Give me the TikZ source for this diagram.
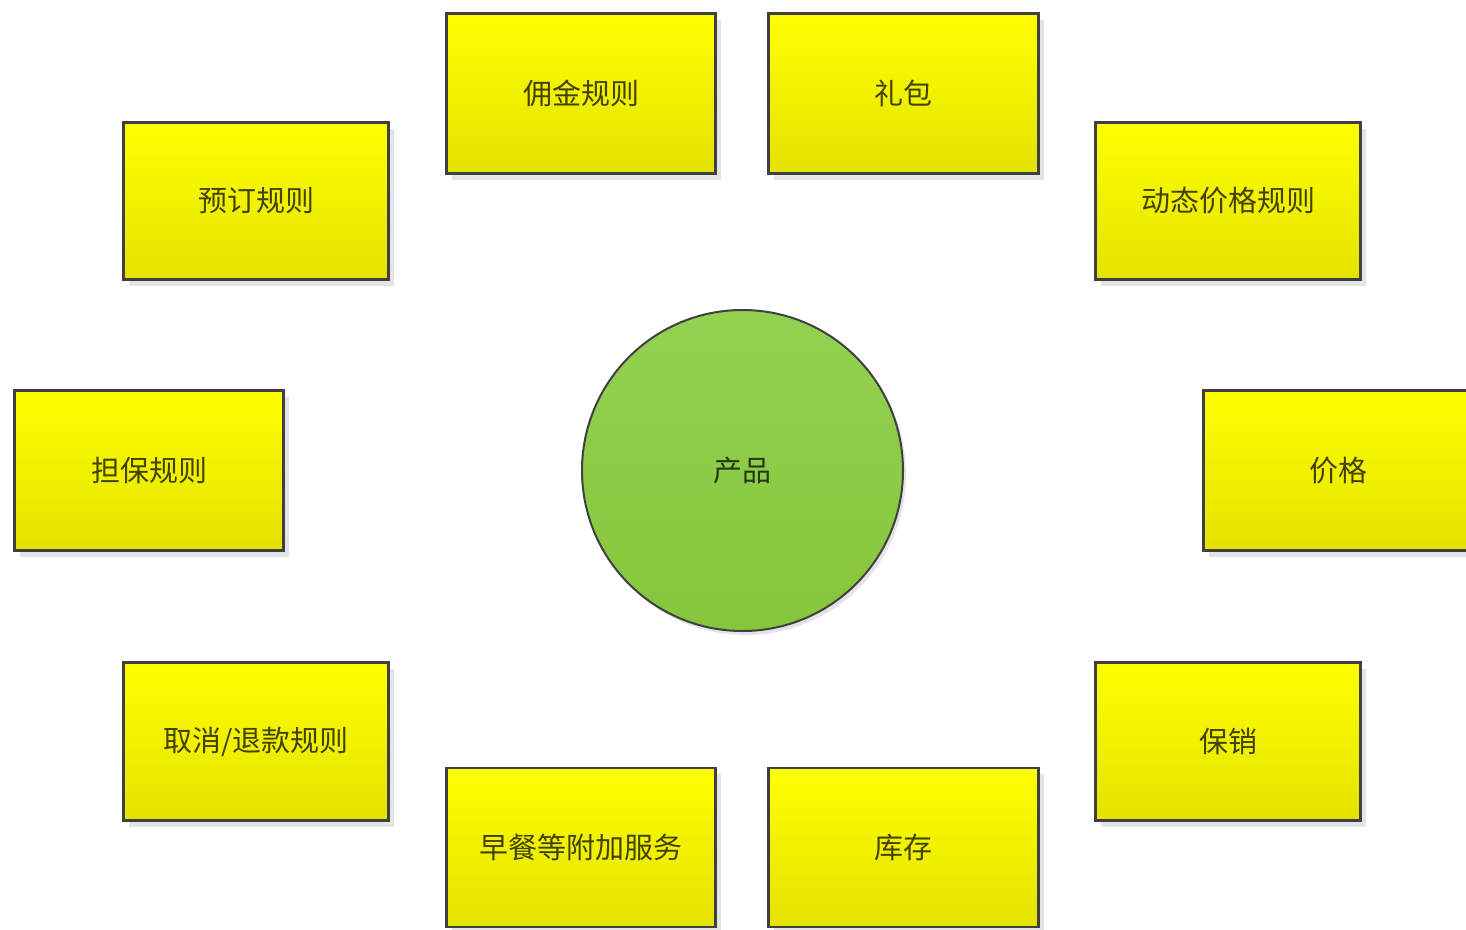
\documentclass[tikz,border=0pt]{standalone}
\usepackage{fontspec}
\newfontfamily\cjk{Noto Sans CJK SC}
\usetikzlibrary{shadows}
\definecolor{ytop}{HTML}{FFFF00}
\definecolor{ybot}{HTML}{E3E300}
\definecolor{gtop}{HTML}{93D152}
\definecolor{gbot}{HTML}{86C63A}
\definecolor{bord}{HTML}{404040}
\definecolor{shad}{HTML}{E4E4E4}
\tikzset{
  box/.style={draw=bord, line width=2.6pt, top color=ytop, bottom color=ybot,
    minimum width=#1, minimum height=160pt, inner sep=0pt,
    font=\cjk\fontsize{29}{33}\selectfont, text=black, text opacity=0.72,
    drop shadow={shadow xshift=5pt, shadow yshift=-6pt, fill=shad, opacity=1}},
  box/.default=269pt,
  hub/.style={circle, draw=bord, line width=2pt, top color=gtop, bottom color=gbot,
    minimum size=321pt, inner sep=0pt,
    font=\cjk\fontsize{29}{33}\selectfont, text=black, text opacity=0.72,
    drop shadow={shadow xshift=3pt, shadow yshift=-4pt, fill=shad, opacity=1}}
}
\begin{document}
\begin{tikzpicture}[x=1pt,y=-1pt]
\useasboundingbox (0,0) rectangle (1466,929);
\clip (0,0) rectangle (1466,929);
\fill[white] (0,0) rectangle (1466,929);
\node[box] (yongjin) at (581,93.5) {佣金规则};
\node[box=270pt] (libao) at (903.5,93.5) {礼包};
\node[box=265pt, minimum height=157pt] (yuding) at (256,201) {预订规则};
\node[box=265pt, minimum height=157pt] (dongtai) at (1228,201) {动态价格规则};
\node[box] (danbao) at (149,470.5) {担保规则};
\node[box] (jiage) at (1338,470.5) {价格};
\node[box=265pt, minimum height=158pt] (quxiao) at (256,741.5) {取消/退款规则};
\node[box=265pt, minimum height=158pt] (baoxiao) at (1228,741.5) {保销};
\node[box, minimum height=159pt] (zaocan) at (581,847.5) {早餐等附加服务};
\node[box=270pt, minimum height=159pt] (kucun) at (903.5,847.5) {库存};
\node[hub] (chanpin) at (742.5,470.5) {产品};
\end{tikzpicture}
\end{document}
